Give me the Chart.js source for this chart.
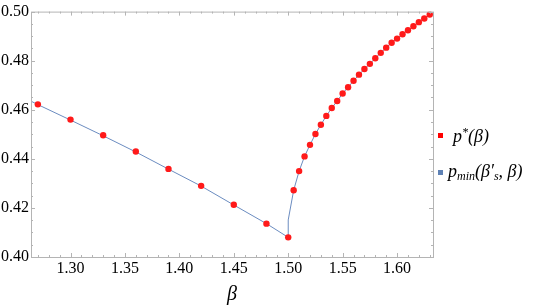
<!DOCTYPE html>
<html>
<head>
<meta charset="utf-8">
<script src="https://cdn.jsdelivr.net/npm/chart.js@4.4.0/dist/chart.umd.min.js"></script>
<style>
  body { margin: 0; background: #fff; }
  #wrap { position: relative; width: 545px; height: 307px; }
  .leg { position: absolute; font-family: "Liberation Serif", serif; font-style: italic; font-size: 18px; color: #000; white-space: nowrap; }
  .sw { position: absolute; width: 5px; height: 5px; }
  sub, sup { font-size: 12px; }
</style>
</head>
<body>
<div id="wrap">
  <canvas id="chart" width="545" height="307"></canvas>
  <div class="sw" style="left:438px; top:133px; background:#ff0000;"></div>
  <div class="leg" style="left:453px; top:125px;">p<sup style="vertical-align:6px;">*</sup>(β)</div>
  <div class="sw" style="left:438px; top:170px; background:#5e81b5;"></div>
  <div class="leg" style="left:448px; top:161px;">p<sub style="vertical-align:-3px;">min</sub>(β′<sub style="vertical-align:-3px;">s</sub>, β)</div>
</div>
<script>
const xMin = 1.2637, xMax = 1.633;
const yMin = 0.40, yMax = 0.50;

// red points p*(beta)
const betaPts = [1.27, 1.30, 1.33, 1.36, 1.39, 1.42, 1.45, 1.48, 1.50,
  1.505, 1.51, 1.515,
  1.520, 1.525, 1.530, 1.535, 1.540, 1.545, 1.550, 1.555, 1.560, 1.565, 1.570, 1.575,
  1.580, 1.585, 1.590, 1.595, 1.600, 1.605, 1.610, 1.615, 1.620, 1.625, 1.630];
const pStar = [0.4622, 0.4560, 0.4496, 0.4430, 0.4359, 0.4290, 0.4213, 0.4136, 0.4080,
  0.4272, 0.4350, 0.4410,
  0.4457, 0.4501, 0.4539, 0.4575, 0.4607, 0.4636, 0.4666, 0.4692, 0.4718, 0.4743, 0.4766, 0.4787,
  0.4810, 0.4832, 0.4853, 0.4873, 0.4890, 0.4908, 0.4924, 0.4940, 0.4957, 0.4972, 0.4988];

// blue curve p_min(beta'_s, beta)
const betaLine = [1.2637, 1.27, 1.30, 1.33, 1.36, 1.39, 1.42, 1.45, 1.48, 1.50, 1.50,
  1.505, 1.51, 1.515,
  1.520, 1.525, 1.530, 1.535, 1.540, 1.545, 1.550, 1.555, 1.560, 1.565, 1.570, 1.575,
  1.580, 1.585, 1.590, 1.595, 1.600, 1.605, 1.610, 1.615, 1.620, 1.625, 1.630, 1.633];
const pMin = [0.4635, 0.4621, 0.4558, 0.4494, 0.4428, 0.4358, 0.4289, 0.4212, 0.4136, 0.4080, 0.4151,
  0.4272, 0.4350, 0.4410,
  0.4457, 0.4501, 0.4539, 0.4575, 0.4607, 0.4636, 0.4666, 0.4692, 0.4718, 0.4743, 0.4766, 0.4787,
  0.4810, 0.4832, 0.4853, 0.4873, 0.4890, 0.4908, 0.4924, 0.4940, 0.4957, 0.4972, 0.4988, 0.4997];

const xTicks = [1.30, 1.35, 1.40, 1.45, 1.50, 1.55, 1.60];
const yTicks = [0.40, 0.42, 0.44, 0.46, 0.48, 0.50];

const frameColor = '#b4b4b4';
const serif = '"Liberation Serif", serif';
const tickFont = { family: serif, size: 16 };

// frame with inward ticks like Mathematica
const framePlugin = {
  id: 'frame',
  afterDraw(chart) {
    const ctx = chart.ctx;
    const a = chart.chartArea;
    const xs = chart.scales.x, ys = chart.scales.y;
    ctx.save();
    ctx.strokeStyle = frameColor;
    ctx.lineWidth = 1;
    ctx.strokeRect(a.left + 0.5, a.top + 0.5, a.right - a.left, a.bottom - a.top);
    ctx.beginPath();
    for (let i = 127; i <= 163; i++) {
      const v = i / 100;
      const px = Math.round(xs.getPixelForValue(v)) + 0.5;
      if (px < a.left || px > a.right) continue;
      const len = (i % 5 === 0) ? 4 : 2;
      ctx.moveTo(px, a.bottom); ctx.lineTo(px, a.bottom - len);
      ctx.moveTo(px, a.top); ctx.lineTo(px, a.top + len);
    }
    for (let i = 80; i <= 100; i++) {
      const v = i / 200;
      const py = Math.round(ys.getPixelForValue(v)) + 0.5;
      const len = (i % 4 === 0) ? 4 : 2;
      ctx.moveTo(a.left, py); ctx.lineTo(a.left + len, py);
      ctx.moveTo(a.right, py); ctx.lineTo(a.right - len, py);
    }
    ctx.stroke();
    ctx.restore();
  }
};

new Chart(document.getElementById('chart'), {
  type: 'scatter',
  data: {
    datasets: [
      {
        label: 'p*(β)',
        data: betaPts.map((b, i) => ({ x: b, y: pStar[i] })),
        backgroundColor: '#ff1a1a',
        borderWidth: 0,
        pointRadius: 3.2
      },
      {
        label: 'pmin',
        type: 'line',
        data: betaLine.map((b, i) => ({ x: b, y: pMin[i] })),
        borderColor: '#6b8cc0',
        borderWidth: 1,
        pointRadius: 0,
        fill: false,
        tension: 0
      }
    ]
  },
  options: {
    responsive: false,
    animation: false,
    layout: { padding: { top: 8, right: 112, left: 0, bottom: 0 } },
    plugins: { legend: { display: false }, tooltip: { enabled: false } },
    scales: {
      x: {
        type: 'linear', min: xMin, max: xMax,
        afterBuildTicks: s => { s.ticks = xTicks.map(v => ({ value: v })); },
        afterFit: s => { s.height = 50; },
        grid: { display: false, drawTicks: false },
        border: { display: false },
        ticks: { color: '#000', font: tickFont, padding: 2, maxRotation: 0,
          callback: v => v.toFixed(2) },
        title: { display: true, text: 'β', color: '#000', padding: { top: 2, bottom: 0 },
          font: { family: serif, size: 20, style: 'italic' } }
      },
      y: {
        type: 'linear', min: yMin, max: yMax,
        afterBuildTicks: s => { s.ticks = yTicks.map(v => ({ value: v })); },
        afterFit: s => { s.width = 31; },
        grid: { display: false, drawTicks: false },
        border: { display: false },
        ticks: { color: '#000', font: tickFont, padding: 2,
          callback: v => v.toFixed(2) }
      }
    }
  },
  plugins: [framePlugin]
});
</script>
</body>
</html>
